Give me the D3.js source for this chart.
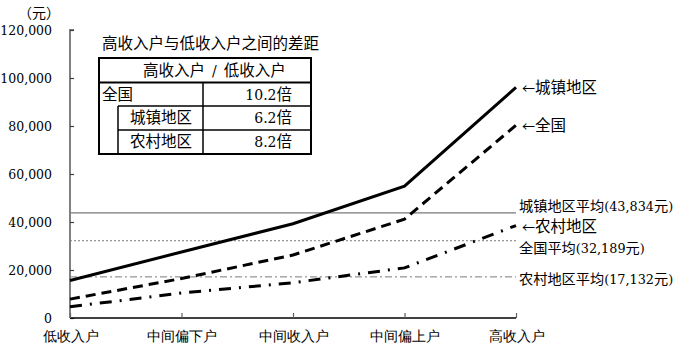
<!DOCTYPE html>
<html><head><meta charset="utf-8">
<script src="https://cdn.jsdelivr.net/npm/d3@7"></script>
<style>
body{margin:0;background:#fff;}
svg{display:block;font-family:"Noto Sans CJK SC",sans-serif;}
</style></head>
<body>
<svg id="chart" width="680" height="350"></svg>
<script>
const categories = ["低收入户","中间偏下户","中间收入户","中间偏上户","高收入户"];
const urban = [15598, 27501, 39278, 54910, 96062];
const national = [7869, 16443, 26249, 41172, 80294];
const rural = [4681, 10392, 14712, 20884, 38520];
const seriesNames = ["城镇地区","全国","农村地区"];
const averages = [43834, 32189, 17132];
const averageNames = ["城镇地区平均","全国平均","农村地区平均"];
const averageValues = ["(43,834","(32,189","(17,132"];
const yTicks = [0,20000,40000,60000,80000,100000,120000];
const tableTitle = "高收入户与低收入户之间的差距";
const tableHeader = ["高收入户","/","低收入户"];
const tableRows = [["全国","10.2"],["城镇地区","6.2"],["农村地区","8.2"]];
const tableUnit = "倍";

const NUM = "DejaVu Serif";
const svg = d3.select("#chart");
const x = d3.scalePoint().domain(categories).range([70,516]);
const y = d3.scaleLinear().domain([0,120000]).range([318,30]);

// reference (average) lines
const refStyles = [
  {dash:null, w:1.2},
  {dash:"2,2", w:1},
  {dash:"7,3,2,3", w:1}
];
averages.forEach((v,i)=>{
  svg.append("line").attr("x1",70).attr("x2",516).attr("y1",y(v)).attr("y2",y(v))
    .attr("stroke","#7a7a7a").attr("stroke-width",refStyles[i].w)
    .attr("stroke-dasharray",refStyles[i].dash);
});

// y axis
const yAxis = d3.axisLeft(y).tickValues(yTicks).tickSize(-4).tickPadding(16)
  .tickFormat(d=>d3.format(",")(d));
const gy = svg.append("g").attr("transform","translate(70,0)").call(yAxis);
gy.select(".domain").attr("stroke","#808080").attr("stroke-width",2).attr("d","M4,30H0V318");
gy.selectAll(".tick line").attr("stroke","#404040").attr("stroke-width",1.2);
gy.selectAll(".tick text").attr("font-size",12.5).attr("font-family",NUM).attr("fill","#000")
  .attr("x",-18).attr("text-anchor","end");

// x axis
const xAxis = d3.axisBottom(x).tickSize(-5).tickPadding(12);
const gx = svg.append("g").attr("transform","translate(0,318)").call(xAxis);
gx.select(".domain").attr("stroke","#000").attr("stroke-width",1.6).attr("d","M70,0H516");
gx.selectAll(".tick line").attr("stroke","#606060").attr("stroke-width",1.2);
gx.selectAll(".tick text").attr("font-size",14).attr("fill","#000")
  .attr("y",10).attr("dy","0.9em");

// unit label
svg.append("text").attr("x",18).attr("y",18).attr("font-size",14).text("（元）");

// series lines
const line = d3.line().x((d,i)=>x(categories[i])).y(d=>y(d));
const seriesData = [urban, national, rural];
const seriesStyles = [{dash:null},{dash:"10,6"},{dash:"12,8,2,8"}];
seriesData.forEach((s,i)=>{
  svg.append("path").datum(s).attr("d",line).attr("fill","none")
    .attr("stroke","#000").attr("stroke-width",3)
    .attr("stroke-dasharray",seriesStyles[i].dash);
});

// series labels with arrows
const arrowDy = [0, 0, 1.5];
seriesData.forEach((s,i)=>{
  const t = svg.append("text").attr("x",x(categories[4])+6).attr("y",y(s[4])+arrowDy[i]).attr("dy","0.35em")
    .attr("font-size",15.5);
  t.append("tspan").attr("font-size",13).text("←");
  t.append("tspan").text(seriesNames[i]);
});

// average labels
const avgLabelY = [y(averages[0])-7, y(averages[1])+7, y(averages[2])+2];
averages.forEach((v,i)=>{
  const t = svg.append("text").attr("x",519).attr("y",avgLabelY[i]).attr("dy","0.35em")
    .attr("font-size",14.2);
  t.append("tspan").text(averageNames[i]);
  t.append("tspan").attr("font-family",NUM).attr("font-size",12.8).text(averageValues[i]);
  t.append("tspan").text("元");
  t.append("tspan").attr("font-family",NUM).attr("font-size",12.8).text(")");
});

// table
const tx0 = 99, tx1 = 311, colX = 203, indentX = 118;
const rowY = [58, 82.5, 106, 130, 154];
svg.append("text").attr("x",102).attr("y",49)
  .attr("font-size",15.5).text(tableTitle);
svg.append("rect").attr("x",tx0).attr("y",rowY[0]).attr("width",tx1-tx0).attr("height",rowY[4]-rowY[0])
  .attr("fill","#fff").attr("stroke","#000").attr("stroke-width",2);
svg.append("line").attr("x1",tx0).attr("x2",tx1).attr("y1",rowY[1]).attr("y2",rowY[1]).attr("stroke","#000").attr("stroke-width",2);
svg.append("line").attr("x1",indentX).attr("x2",tx1).attr("y1",rowY[2]).attr("y2",rowY[2]).attr("stroke","#000").attr("stroke-width",1.5);
svg.append("line").attr("x1",indentX).attr("x2",tx1).attr("y1",rowY[3]).attr("y2",rowY[3]).attr("stroke","#000").attr("stroke-width",1.5);
svg.append("line").attr("x1",colX).attr("x2",colX).attr("y1",rowY[1]).attr("y2",rowY[4]).attr("stroke","#000").attr("stroke-width",1.5);
svg.append("line").attr("x1",indentX).attr("x2",indentX).attr("y1",rowY[2]).attr("y2",rowY[4]).attr("stroke","#000").attr("stroke-width",1.5);
const hdr = svg.append("text").attr("y",(rowY[0]+rowY[1])/2).attr("dy","0.35em").attr("font-size",15.5);
hdr.append("tspan").attr("x",143).text(tableHeader[0]);
hdr.append("tspan").attr("dx",7).attr("font-family",NUM).attr("font-size",14).text(tableHeader[1]);
hdr.append("tspan").attr("dx",7).text(tableHeader[2]);
tableRows.forEach((r,i)=>{
  const cy = (rowY[i+1]+rowY[i+2])/2;
  svg.append("text").attr("x", i===0 ? 102 : 130).attr("y",cy).attr("dy","0.35em")
    .attr("font-size",15.5).text(r[0]);
  const v = svg.append("text").attr("x",292).attr("y",cy).attr("dy","0.35em").attr("text-anchor","end")
    .attr("font-size",15.5);
  v.append("tspan").attr("font-family",NUM).attr("font-size",14).text(r[1]);
  v.append("tspan").text(tableUnit);
});
</script>
</body></html>
